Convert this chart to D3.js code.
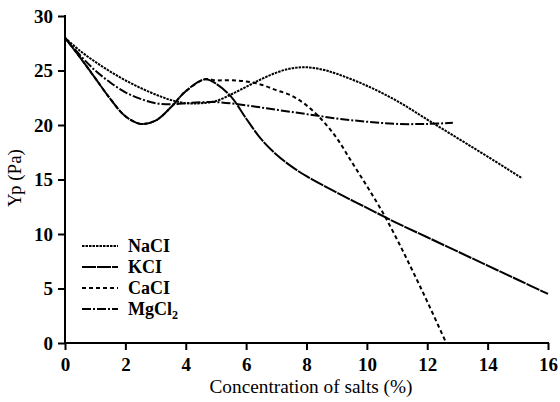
<!DOCTYPE html>
<html><head><meta charset="utf-8">
<script src="https://cdn.jsdelivr.net/npm/d3@7"></script>
<style>body{margin:0;background:#fff}</style>
</head><body><svg id="c" width="560" height="402"></svg>
<script>
const xTicks = [0,2,4,6,8,10,12,14,16];
const yTicks = [0,5,10,15,20,25,30];
const seriesNames = ["NaCI","KCI","CaCI","MgCl2"];
const naclX = [0,0.5,1,1.5,2,2.5,3,3.5,4,4.5,5,5.5,6,6.5,7,7.5,8,8.5,9,10,11,12,13,14,15.15];
const naclY = [28,26.8,25.8,24.9,24.1,23.4,22.8,22.3,22,22,22.2,22.8,23.5,24.2,24.8,25.2,25.3,25.1,24.7,23.6,22.2,20.5,18.8,17.1,15.1];
const kclX = [0,0.5,1,1.5,2,2.5,3,3.5,4,4.64,5,5.5,6,6.5,7,7.5,8,9,10,11,12,13,14,15,16];
const kclY = [28,26.2,24.3,22.4,20.8,20.1,20.4,21.6,23.1,24.2,23.8,22.6,20.6,18.7,17.3,16.2,15.3,13.8,12.4,11.0,9.7,8.4,7.1,5.8,4.5];
const caclX = [0,0.5,1,1.5,2,2.5,3,3.5,4,4.64,5,5.5,6,6.5,7,7.5,8,8.5,9,9.5,10,10.5,11,11.5,12,12.62];
const caclY = [28,26.2,24.3,22.4,20.8,20.1,20.4,21.6,23.1,24.2,24.1,24.1,24.0,23.7,23.2,22.7,21.8,20.5,18.8,16.6,14.4,12.1,9.5,6.7,3.8,0.05];
const mgX = [0,0.5,1,1.5,2,2.5,3,3.5,4,5,6,7,8,9,10,11,12,12.85];
const mgY = [28,26.4,25.0,23.9,23,22.4,22.0,21.9,22,22.1,21.8,21.4,21.0,20.6,20.3,20.1,20.1,20.2];

const FONT = '"Liberation Serif", "DejaVu Serif", serif';
const svg = d3.select("#c");
const x = d3.scaleLinear().domain([0,16]).range([65,548]);
const y = d3.scaleLinear().domain([0,30]).range([343,16]);

const series = [
  {name:"NaCI", xs:naclX, ys:naclY, dash:"2.5,1"},
  {name:"KCI", xs:kclX, ys:kclY, dash:"14,1"},
  {name:"CaCI", xs:caclX, ys:caclY, dash:"4,3"},
  {name:"MgCl2", xs:mgX, ys:mgY, dash:"9,2,2,2"}
];
const line = d3.line().x(d=>x(d[0])).y(d=>y(d[1])).curve(d3.curveCatmullRom.alpha(0.5));
series.forEach(s=>{
  svg.append("path").attr("d", line(s.xs.map((v,i)=>[v,s.ys[i]])))
    .attr("fill","none").attr("stroke","#000").attr("stroke-width",2)
    .attr("stroke-dasharray",s.dash);
});

const xa = svg.append("g").attr("transform","translate(0,343)")
  .call(d3.axisBottom(x).tickValues(xTicks).tickSize(7).tickPadding(8).tickFormat(d3.format("d")));
const ya = svg.append("g").attr("transform","translate(65,0)")
  .call(d3.axisLeft(y).tickValues(yTicks).tickSize(7).tickPadding(5).tickFormat(d3.format("d")));
[xa,ya].forEach(a=>{
  a.attr("font-family",FONT);
  a.select(".domain").attr("stroke","#000").attr("stroke-width",2);
  a.selectAll(".tick line").attr("stroke","#000").attr("stroke-width",2);
  a.selectAll("text").style("font-family",FONT).attr("font-size",19).attr("font-weight","bold").attr("fill","#000");
});
xa.select(".domain").attr("d","M64,0H549");
ya.select(".domain").attr("d","M0,344V15");

svg.append("text").attr("x",311).attr("y",393).attr("text-anchor","middle").style("font-family",FONT)
  .attr("font-size",19).attr("textLength",203).attr("lengthAdjust","spacingAndGlyphs").text("Concentration of salts (%)");
svg.append("text").attr("transform","translate(21,178) rotate(-90)").attr("text-anchor","middle").style("font-family",FONT)
  .attr("font-size",19).text("Yp (Pa)");

// legend
series.forEach((s,i)=>{
  const ly = 246 + i*21;
  svg.append("line").attr("x1",82).attr("x2",118).attr("y1",ly).attr("y2",ly)
    .attr("stroke","#000").attr("stroke-width",2).attr("stroke-dasharray",s.dash);
  const t = svg.append("text").attr("x",128).attr("y",ly+6).style("font-family",FONT).attr("font-size",18).attr("font-weight","bold");
  if (s.name==="MgCl2") {
    t.append("tspan").text("MgCl");
    t.append("tspan").attr("font-size",12).attr("dy",4).text("2");
  } else t.text(s.name);
});
</script></body></html>
